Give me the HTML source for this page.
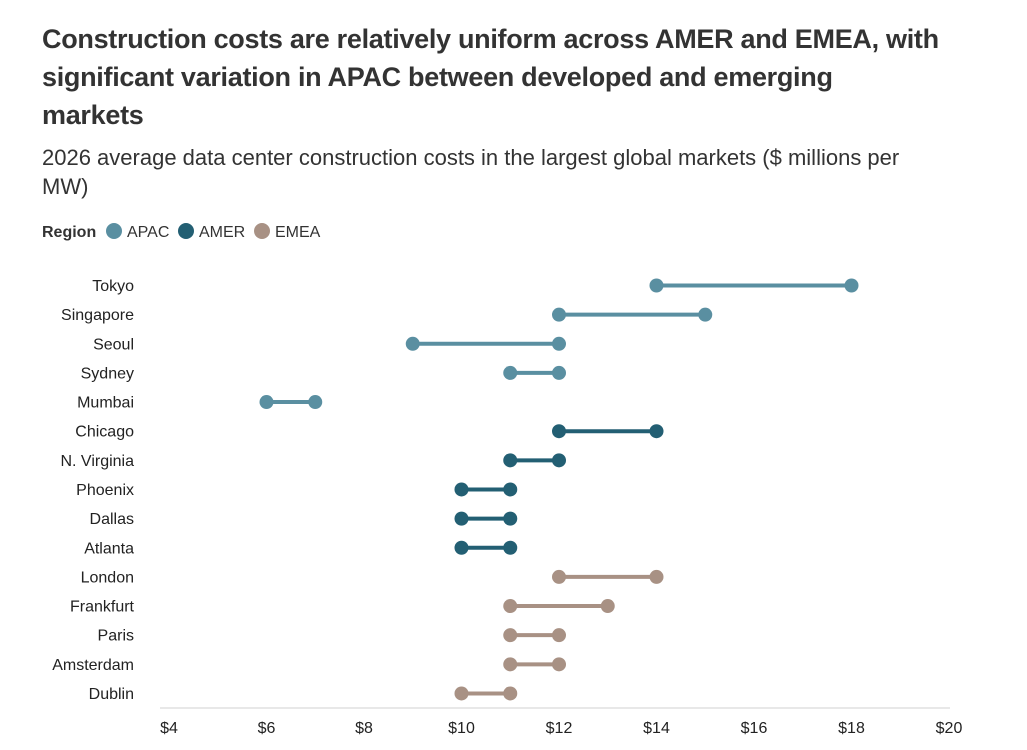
<!DOCTYPE html>
<html><head><meta charset="utf-8"><style>
body{margin:0;background:#fff;width:1027px;height:750px;overflow:hidden;font-family:"Liberation Sans",sans-serif;color:#333}
h1{position:absolute;left:42px;top:20px;margin:0;font-size:27px;line-height:38px;font-weight:bold;color:#333;width:980px;letter-spacing:-0.3px;white-space:nowrap}
.sub{position:absolute;left:42px;top:143px;font-size:22px;line-height:29px;color:#333;width:980px;white-space:nowrap}
</style></head><body>
<h1>Construction costs are relatively uniform across AMER and EMEA, with<br>significant variation in APAC between developed and emerging<br>markets</h1>
<div class="sub">2026 average data center construction costs in the largest global markets ($ millions per<br>MW)</div>
<svg width="1027" height="750" style="position:absolute;left:0;top:0" font-family="Liberation Sans, sans-serif">
<g font-size="16" fill="#333">
<text x="42" y="237" font-weight="bold">Region</text>
<circle cx="114" cy="231" r="8" fill="#5a8fa1"/><text x="127" y="237">APAC</text>
<circle cx="186" cy="231" r="8" fill="#235f73"/><text x="199" y="237">AMER</text>
<circle cx="262" cy="231" r="8" fill="#a89184"/><text x="275" y="237">EMEA</text>
</g>
<line x1="160" y1="708" x2="950" y2="708" stroke="#e8e8e8" stroke-width="2"/>
<g font-size="16" fill="#222" text-anchor="middle">
<text x="169" y="733">$4</text><text x="266.5" y="733">$6</text><text x="364" y="733">$8</text><text x="461.5" y="733">$10</text><text x="559" y="733">$12</text><text x="656.5" y="733">$14</text><text x="754" y="733">$16</text><text x="851.5" y="733">$18</text><text x="949" y="733">$20</text>
</g>
<g id="rows" font-size="16" fill="#222" text-anchor="end"></g>
</svg>
<script>
var d=[["Tokyo",14,18,0],["Singapore",12,15,0],["Seoul",9,12,0],["Sydney",11,12,0],["Mumbai",6,7,0],["Chicago",12,14,1],["N. Virginia",11,12,1],["Phoenix",10,11,1],["Dallas",10,11,1],["Atlanta",10,11,1],["London",12,14,2],["Frankfurt",11,13,2],["Paris",11,12,2],["Amsterdam",11,12,2],["Dublin",10,11,2]];
var c=["#5a8fa1","#235f73","#a89184"],g=document.getElementById("rows"),s="";
function X(v){return 169+(v-4)*48.75}
d.forEach(function(r,i){var y=285.5+i*29.14;
s+='<text x="134" y="'+(y+5.5)+'">'+r[0]+'</text>';
s+='<line x1="'+X(r[1])+'" y1="'+y+'" x2="'+X(r[2])+'" y2="'+y+'" stroke="'+c[r[3]]+'" stroke-width="4"/>';
s+='<circle cx="'+X(r[1])+'" cy="'+y+'" r="7" fill="'+c[r[3]]+'"/><circle cx="'+X(r[2])+'" cy="'+y+'" r="7" fill="'+c[r[3]]+'"/>';});
g.innerHTML=s;
</script>
</body></html>
